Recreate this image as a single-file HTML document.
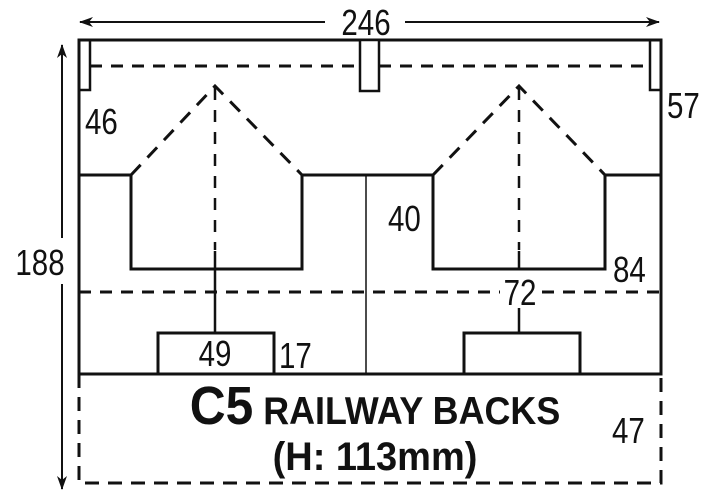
<!DOCTYPE html>
<html><head><meta charset="utf-8"><style>
html,body{margin:0;padding:0;background:#fff}
svg{display:block}
text{font-family:"Liberation Sans",Arial,sans-serif;fill:#111}
</style></head><body>
<svg width="721" height="492" viewBox="0 0 721 492" xmlns="http://www.w3.org/2000/svg">
<defs>
<marker id="ah" markerWidth="14" markerHeight="10" refX="13" refY="5" orient="auto" markerUnits="userSpaceOnUse">
<path d="M0,0 L14,5 L0,10 L4,5 Z" fill="#111"/></marker>
</defs>
<g stroke="#111" fill="none">
<line x1="325" y1="22" x2="80" y2="22" stroke-width="2" marker-end="url(#ah)"/>
<line x1="405" y1="22" x2="659" y2="22" stroke-width="2" marker-end="url(#ah)"/>
<line x1="62" y1="238" x2="62" y2="45" stroke-width="2" marker-end="url(#ah)"/>
<line x1="62" y1="284" x2="62" y2="489" stroke-width="2" marker-end="url(#ah)"/>
<path d="M79,40 H661 V374 H79 Z" stroke-width="3"/>
<path d="M79,40 V90 H90 V40" stroke-width="2.5"/>
<path d="M661,40 V90 H650 V40" stroke-width="2.5"/>
<rect x="360" y="40" width="19" height="51" stroke-width="2.5" fill="#fff"/>
<line x1="90" y1="66" x2="360" y2="66" stroke-width="3" stroke-dasharray="12,9"/>
<line x1="379" y1="66" x2="650" y2="66" stroke-width="3" stroke-dasharray="12,9"/>
<path d="M79,175 H131 V269 H302 V175 H433 V269 H605 V175 H661" stroke-width="3"/>
<line x1="366" y1="175" x2="366" y2="374" stroke-width="1.5"/>
<path d="M131,175 L215,86 L302,175" stroke-width="3" stroke-dasharray="14,10"/>
<path d="M433,175 L519,86 L605,175" stroke-width="3" stroke-dasharray="14,10"/>
<line x1="215" y1="88" x2="215" y2="250" stroke-width="2.5" stroke-dasharray="12,10"/>
<line x1="519" y1="88" x2="519" y2="250" stroke-width="2.5" stroke-dasharray="12,10"/>
<line x1="215" y1="251" x2="215" y2="333" stroke-width="2.5"/>
<line x1="519" y1="251" x2="519" y2="269" stroke-width="2.5"/>
<line x1="519" y1="308" x2="519" y2="333" stroke-width="2.5"/>
<line x1="79" y1="292" x2="500" y2="292" stroke-width="3" stroke-dasharray="12,9"/>
<line x1="542" y1="292" x2="661" y2="292" stroke-width="3" stroke-dasharray="12,9"/>
<rect x="158" y="333" width="116" height="41" stroke-width="3"/>
<rect x="464" y="333" width="116" height="41" stroke-width="3"/>
<path d="M79,374 V483 H661 V374" stroke-width="3" stroke-dasharray="14,9"/>
</g>
<g font-size="36">
<text x="366" y="35" text-anchor="middle" transform="translate(366,0) scale(0.82,1) translate(-366,0)">246</text>
<text x="85" y="134" transform="translate(85,0) scale(0.82,1) translate(-85,0)">46</text>
<text x="667" y="118" transform="translate(667,0) scale(0.82,1) translate(-667,0)">57</text>
<text x="388" y="231" transform="translate(388,0) scale(0.82,1) translate(-388,0)">40</text>
<text x="613" y="282" transform="translate(613,0) scale(0.82,1) translate(-613,0)">84</text>
<text x="520" y="305" text-anchor="middle" transform="translate(520,0) scale(0.82,1) translate(-520,0)">72</text>
<text x="40" y="275" text-anchor="middle" transform="translate(40,0) scale(0.82,1) translate(-40,0)">188</text>
<text x="215" y="366" text-anchor="middle" transform="translate(215,0) scale(0.82,1) translate(-215,0)">49</text>
<text x="279" y="368" transform="translate(279,0) scale(0.82,1) translate(-279,0)">17</text>
<text x="612" y="443" transform="translate(612,0) scale(0.82,1) translate(-612,0)">47</text>
</g>
<text x="375" y="424" text-anchor="middle" font-weight="bold" transform="translate(375,0) scale(0.92,1) translate(-375,0)"><tspan font-size="54">C5</tspan><tspan font-size="39"> RAILWAY BACKS</tspan></text>
<text x="375" y="470" text-anchor="middle" font-weight="bold" font-size="40" transform="translate(375,0) scale(0.95,1) translate(-375,0)">(H: 113mm)</text>
</svg>
</body></html>
